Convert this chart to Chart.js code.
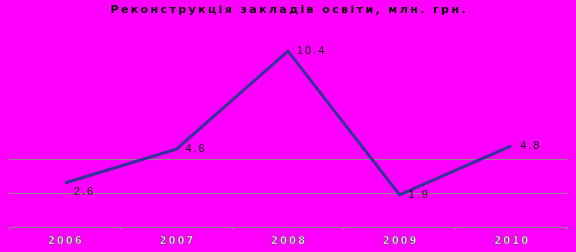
<!DOCTYPE html>
<html>
<head>
<meta charset="utf-8">
<script src="https://cdn.jsdelivr.net/npm/chart.js@4/dist/chart.umd.min.js"></script>
<style>
  html, body { margin: 0; padding: 0; background: #ff00ff; }
  #wrap { width: 576px; height: 252px; }
</style>
</head>
<body>
<div id="wrap"><canvas id="chart"></canvas></div>
<script>
const years = ['2006', '2007', '2008', '2009', '2010'];
const values = [2.6, 4.6, 10.4, 1.9, 4.8];
const titleText = 'Реконструкція закладів освіти, млн. грн.';

// текст з розрядкою (letterSpacing), по центру або зліва
function spacedText(c, text, x, y, ls, align, stroke) {
    c.letterSpacing = ls + 'px';
    const w = c.measureText(text).width - ls;
    const x0 = align === 'center' ? x - w / 2 : x;
    c.textAlign = 'left';
    c.fillText(text, x0, y);
    if (stroke) c.strokeText(text, x0, y);
}

const customText = {
    id: 'customText',
    afterDraw(chart) {
        const c = chart.ctx;
        const area = chart.chartArea;
        c.save();
        c.textBaseline = 'middle';

        // заголовок
        c.font = 'bold 11px "DejaVu Sans", sans-serif';
        c.fillStyle = '#000';
        spacedText(c, titleText, 288, 10.5, 2.4, 'center');

        // підписи значень
        c.font = '11px "Liberation Sans", Arial, sans-serif';
        const pts = chart.getDatasetMeta(0).data;
        pts.forEach((p, i) => {
            const dy = i === 0 ? 9 : 0;
            spacedText(c, values[i].toFixed(1), p.x + 9, p.y + dy, 2, 'left');
        });

        // підписи років
        const xs = chart.scales.x;
        c.font = 'bold 10px "DejaVu Sans", sans-serif';
        c.fillStyle = '#fff';
        c.strokeStyle = 'rgba(0,0,0,0.7)';
        c.lineWidth = 0.5;
        years.forEach((y, i) => {
            spacedText(c, y, xs.getPixelForTick(i), area.bottom + 14, 2, 'center', true);
        });
        c.restore();
    }
};

new Chart(document.getElementById('chart'), {
    type: 'line',
    data: {
        labels: years,
        datasets: [{
            data: values,
            borderColor: '#333399',
            borderWidth: 3,
            pointRadius: 0,
            tension: 0
        }]
    },
    options: {
        responsive: true,
        maintainAspectRatio: false,
        animation: false,
        layout: { padding: { left: 9, right: 9, top: 24, bottom: 22 } },
        plugins: {
            legend: { display: false },
            tooltip: { enabled: false },
            title: { display: false }
        },
        scales: {
            x: {
                offset: true,
                grid: { offset: true, drawOnChartArea: false, drawTicks: true, tickLength: 3, color: '#8a8a8a' },
                border: { color: '#8a8a8a' },
                ticks: { display: false }
            },
            y: {
                min: 0,
                max: 12,
                ticks: { display: false, stepSize: 2 },
                border: { display: false },
                grid: {
                    drawTicks: false,
                    lineWidth: 1,
                    color: ctx => (ctx.tick && (ctx.tick.value === 2 || ctx.tick.value === 4)) ? '#8a8a8a' : 'rgba(0,0,0,0)'
                }
            }
        }
    },
    plugins: [customText]
});
</script>
</body>
</html>
